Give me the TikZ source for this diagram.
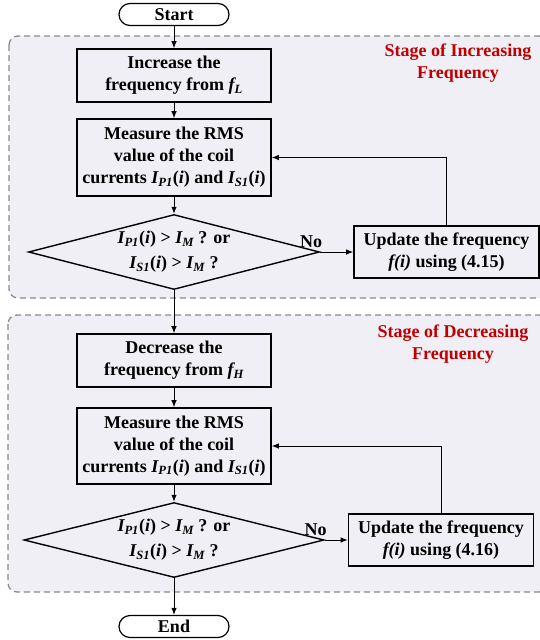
\documentclass[tikz,border=0pt]{standalone}
\usepackage{fontspec}
\setmainfont{Liberation Serif}
\usetikzlibrary{arrows.meta,positioning,shapes.geometric,backgrounds}
\definecolor{stagefill}{HTML}{F0EFF5}
\definecolor{stagedash}{HTML}{8A8A8A}
\definecolor{stagered}{HTML}{C00000}
\newcommand{\Icur}[1]{\textit{I\textsubscript{#1}}}
\newcommand{\fsub}[1]{\textit{f\textsubscript{#1}}}
\tikzset{
  txt/.style={font=\bfseries\fontsize{18}{22}\selectfont,align=center},
  blk/.style={txt,draw,rectangle,line width=1.6pt,inner sep=3pt,minimum width=194pt},
  termblk/.style={txt,draw,rectangle,rounded corners=11pt,line width=1.2pt,minimum width=110pt,minimum height=22pt,inner sep=0pt},
  decblk/.style={txt,draw,diamond,aspect=3.9,line width=1.4pt,inner sep=-3pt,minimum height=75pt},
  updblk/.style={blk,minimum width=185pt,minimum height=52pt},
  stagebg/.style={draw=stagedash,fill=stagefill,dash pattern=on 6pt off 4pt,line width=1.3pt,rounded corners=9pt},
  stagelbl/.style={txt,text=stagered},
  arr/.style={-{Latex[length=7pt,width=5.5pt]},line width=1pt},
  nolbl/.style={txt,above=3pt,pos=0,xshift=-9pt,inner sep=1pt}
}
\begin{document}
\begin{tikzpicture}[x=1pt,y=1pt]
  \useasboundingbox (0,0) rectangle (540,-640);
  % main column
  \node[termblk] (start) at (174,-14.5) {Start};
  \node[blk, minimum height=53pt] (incf) at (174,-75.5) {Increase the\\frequency from \fsub{L}};
  \node[blk, minimum height=77pt] (meas1) at (174,-157.5) {Measure the RMS\\value of the coil\\currents \Icur{P1}(\textit{i}) and \Icur{S1}(\textit{i})};
  \node[decblk, minimum width=291pt] (chk1) at (174,-252) {\Icur{P1}(\textit{i}) > \Icur{M} ? or\\[3pt]\Icur{S1}(\textit{i}) > \Icur{M} ?};
  \node[updblk, right=33pt of chk1] (upd1) {Update the frequency\\\textit{f(i)} using (4.15)};
  \node[blk, minimum height=53pt] (decf) at (174,-360.5) {Decrease the\\frequency from \fsub{H}};
  \node[blk, minimum height=76pt] (meas2) at (174,-446) {Measure the RMS\\value of the coil\\currents \Icur{P1}(\textit{i}) and \Icur{S1}(\textit{i})};
  \node[decblk, minimum width=300pt] (chk2) at (174,-540) {\Icur{P1}(\textit{i}) > \Icur{M} ? or\\[3pt]\Icur{S1}(\textit{i}) > \Icur{M} ?};
  \node[updblk, right=23pt of chk2] (upd2) {Update the frequency\\\textit{f(i)} using (4.16)};
  \node[termblk] (stop) at (174,-626.5) {End};

  \draw[arr] (start) -- (incf);
  \draw[arr] (incf) -- (meas1);
  \draw[arr] (meas1) -- (chk1);
  \draw[arr] (chk1) -- node[nolbl]{No} (upd1);
  \draw[arr] (upd1.north) |- (meas1.east);
  \draw[arr] (chk1) -- (decf);
  \draw[arr] (decf) -- (meas2);
  \draw[arr] (meas2) -- (chk2);
  \draw[arr] (chk2) -- node[nolbl]{No} (upd2);
  \draw[arr] (upd2.north) |- (meas2.east);
  \draw[arr] (chk2) -- (stop);

  % stage frames
  \begin{scope}[on background layer]
    \draw[stagebg] (9,-36) rectangle (548,-298);
    \draw[stagebg] (8,-315) rectangle (548,-592);
  \end{scope}
  \node[stagelbl] (stg1) at (458,-63) {Stage of Increasing\\Frequency};
  \node[stagelbl] (stg2) at (453,-344) {Stage of Decreasing\\Frequency};
\end{tikzpicture}
\end{document}
